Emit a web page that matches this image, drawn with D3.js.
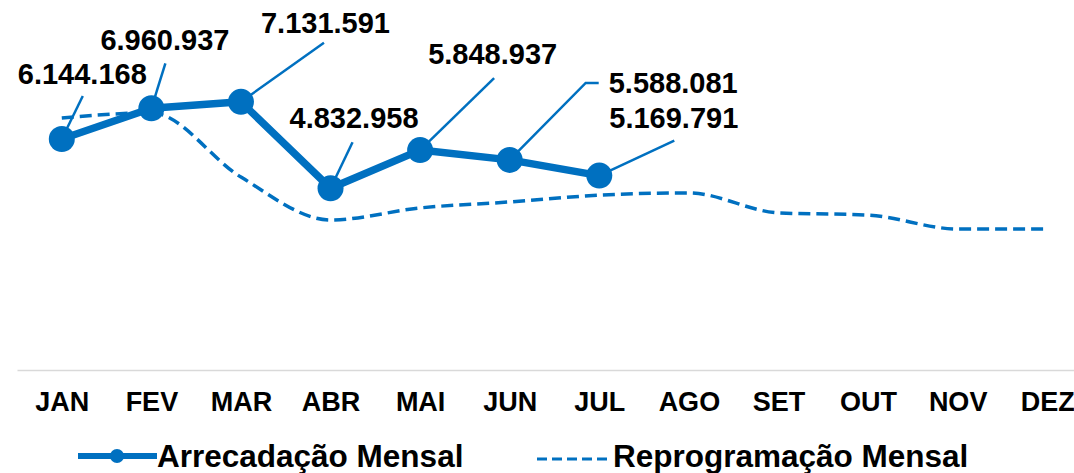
<!DOCTYPE html>
<html>
<head>
<meta charset="utf-8">
<script src="https://cdn.jsdelivr.net/npm/d3@7"></script>
<style>
  body { margin: 0; background: #fff; }
  svg { display: block; font-family: "Liberation Sans", Arial, sans-serif; font-weight: bold; }
</style>
</head>
<body>
<script>
// dimensions du graphe
var larg = 1074;
var haut = 473;
var bleu = "#0070C0";

// donnees
var mois = ["JAN", "FEV", "MAR", "ABR", "MAI", "JUN", "JUL", "AGO", "SET", "OUT", "NOV", "DEZ"];
var arrecadacao = [6144168, 6960937, 7131591, 4832958, 5848937, 5588081, 5169791];
var reprogramacao = [6700000, 6840000, 5130000, 3990000, 4310000, 4470000, 4650000, 4710000, 4180000, 4120000, 3750000, 3750000];
var legendas = ["Arrecadação Mensal", "Reprogramação Mensal"];

// placement des etiquettes (decalage par rapport au point)
var etiquettes = [
  {dx: -44, dy: -55, lx: 21, ly: -43},
  {dx: -51, dy: -58, lx: 14, ly: -45},
  {dx: 20, dy: -69, lx: 83, ly: -59},
  {dx: -41, dy: -60, lx: 22, ly: -46},
  {dx: 8, dy: -86, lx: 74, ly: -72},
  {dx: 99, dy: -67, lx: 76, ly: -77, lx2: 89},
  {dx: 10, dy: -48, lx: 75, ly: -35}
];

var fmt = function (v) {
  return d3.format(",")(v).replace(/,/g, ".");
};

var svg = d3.select("body")
  .append("svg")
  .attr("width", larg)
  .attr("height", haut);

var x = d3.scalePoint()
  .domain(mois)
  .range([17, 1092])
  .padding(0.5);

var y = d3.scaleLinear()
  .domain([0, 10000000])
  .range([370, -6]);

// axe x
var axe = svg.append("g")
  .attr("transform", "translate(0,370)")
  .call(d3.axisBottom(x).tickSize(0).tickPadding(0));
axe.select(".domain").attr("stroke", "#d9d9d9").attr("stroke-width", 1.5);
axe.selectAll("text")
  .attr("y", 41)
  .attr("dy", null)
  .attr("fill", "#000")
  .attr("font-size", "27px")
  .attr("font-family", "'Liberation Sans', Arial, sans-serif")
  .attr("font-weight", "bold");

// ligne pointillee (lissee)
var ligneRep = d3.line()
  .x(function (d, i) { return x(mois[i]); })
  .y(function (d) { return y(d); })
  .curve(d3.curveMonotoneX);

svg.append("path")
  .datum(reprogramacao)
  .attr("d", ligneRep)
  .attr("fill", "none")
  .attr("stroke", bleu)
  .attr("stroke-width", 3.5)
  .attr("stroke-dasharray", "12,6");

// lignes de rappel
var pts = arrecadacao.map(function (v, i) {
  return {x: x(mois[i]), y: y(v), v: v, e: etiquettes[i]};
});

svg.selectAll("polyline.rappel")
  .data(pts)
  .enter()
  .append("polyline")
  .attr("class", "rappel")
  .attr("points", function (d) {
    var p = [[d.x, d.y], [d.x + d.e.lx, d.y + d.e.ly]];
    if (d.e.lx2 !== undefined) p.push([d.x + d.e.lx2, d.y + d.e.ly]);
    return p.map(function (q) { return q.join(","); }).join(" ");
  })
  .attr("fill", "none")
  .attr("stroke", bleu)
  .attr("stroke-width", 2.5);

// ligne principale
var ligneArr = d3.line()
  .x(function (d) { return d.x; })
  .y(function (d) { return d.y; });

svg.append("path")
  .datum(pts)
  .attr("d", ligneArr)
  .attr("fill", "none")
  .attr("stroke", bleu)
  .attr("stroke-width", 7.5)
  .attr("stroke-linejoin", "round");

svg.selectAll("circle.pt")
  .data(pts)
  .enter()
  .append("circle")
  .attr("class", "pt")
  .attr("cx", function (d) { return d.x; })
  .attr("cy", function (d) { return d.y; })
  .attr("r", 13)
  .attr("fill", bleu);

// etiquettes des valeurs
svg.selectAll("text.val")
  .data(pts)
  .enter()
  .append("text")
  .attr("class", "val")
  .text(function (d) { return fmt(d.v); })
  .attr("x", function (d) { return d.x + d.e.dx; })
  .attr("y", function (d) { return d.y + d.e.dy; })
  .attr("font-size", "29px")
  .attr("fill", "#000");

// legende
var leg = svg.append("g");
leg.append("line")
  .attr("x1", 78).attr("x2", 157)
  .attr("y1", 456).attr("y2", 456)
  .attr("stroke", bleu).attr("stroke-width", 6);
leg.append("circle")
  .attr("cx", 117).attr("cy", 456).attr("r", 7)
  .attr("fill", bleu);
leg.append("text")
  .text(legendas[0])
  .attr("x", 157).attr("y", 467)
  .attr("font-size", "31.5px");

leg.append("line")
  .attr("x1", 537).attr("x2", 609)
  .attr("y1", 459).attr("y2", 459)
  .attr("stroke", bleu).attr("stroke-width", 3)
  .attr("stroke-dasharray", "10,5");
leg.append("text")
  .text(legendas[1])
  .attr("x", 613).attr("y", 467)
  .attr("font-size", "31.5px");
</script>
</body>
</html>
